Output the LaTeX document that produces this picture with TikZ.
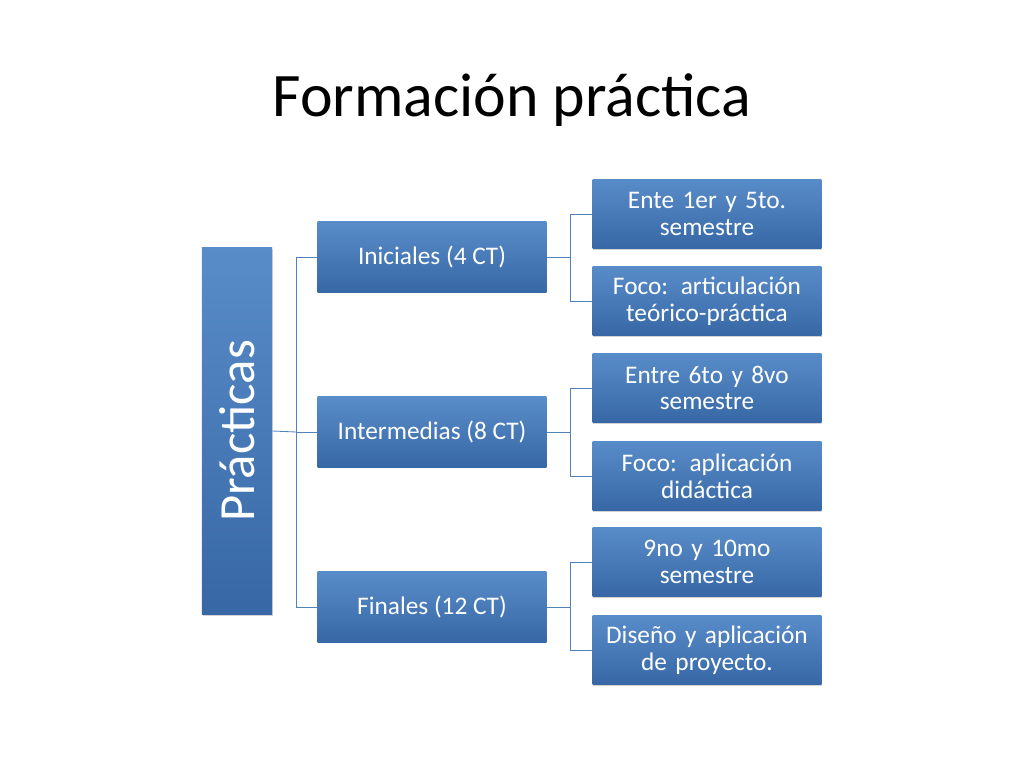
\documentclass[tikz,border=0pt]{standalone}
\usepackage{fontspec}
\setmainfont{Carlito}
\usetikzlibrary{shadows}
\definecolor{box_top}{RGB}{88,140,201}
\definecolor{box_bot}{RGB}{55,104,165}
\definecolor{link_blue}{RGB}{79,129,189}
\tikzstyle{bx}=[rectangle,top color=box_top,bottom color=box_bot,draw=none,
  text=white,align=center,font=\fontsize{18}{19}\selectfont,
  drop shadow={opacity=0.35,shadow xshift=0.6pt,shadow yshift=-0.8pt}]
\tikzstyle{mid}=[bx,minimum width=5.72cm,minimum height=1.75cm]
\tikzstyle{leaf}=[bx,minimum width=5.72cm,minimum height=1.72cm,text width=5.4cm]
\tikzstyle{link}=[draw=link_blue,line width=0.6pt]

\begin{document}
\begin{tikzpicture}[x=0.025cm,y=-0.025cm]
        \useasboundingbox (0,0) rectangle (1024,768);
        \node (title) at (512,100) {\fontsize{44}{48}\selectfont Formación práctica};
        \node[style=bx,minimum width=9.17cm,minimum height=1.75cm,rotate=90,
          font=\fontsize{36}{40}\selectfont] (root) at (237,431) {Prácticas};
        \node[style=mid] (ini) at (432,257) {Iniciales (4 CT)};
        \node[style=mid] (inter) at (432,432) {Intermedias (8 CT)};
        \node[style=mid] (fin) at (432,607) {Finales (12 CT)};
        \node[style=leaf] (ini1) at (707,214) {Ente 1er y 5to.\\semestre};
        \node[style=leaf] (ini2) at (707,301) {Foco: articulación\\teórico-práctica};
        \node[style=leaf] (inter1) at (707,388) {Entre 6to y 8vo\\semestre};
        \node[style=leaf] (inter2) at (707,476) {Foco: aplicación\\didáctica};
        \node[style=leaf] (fin1) at (707,562) {9no y 10mo\\semestre};
        \node[style=leaf] (fin2) at (707,650) {Diseño y aplicación\\de proyecto.};
        \draw[link] (root.south) -- (296,432);
        \draw[link] (ini.west) -| (296,607) -- (fin.west);
        \draw[link] (296,432) -- (inter.west);
        \draw[link] (ini.east) -- (570,257);
        \draw[link] (ini1.west) -| (570,301) -- (ini2.west);
        \draw[link] (inter.east) -- (570,432);
        \draw[link] (inter1.west) -| (570,476) -- (inter2.west);
        \draw[link] (fin.east) -- (570,607);
        \draw[link] (fin1.west) -| (570,650) -- (fin2.west);
    \end{tikzpicture}
\end{document}
